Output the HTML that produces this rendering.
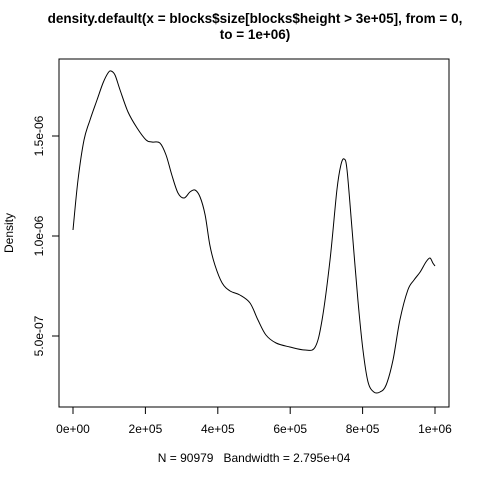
<!DOCTYPE html>
<html><head><meta charset="utf-8"><style>
body{margin:0;background:#fff}
svg text{font-family:"Liberation Sans",Arial,sans-serif;fill:#000}
</style></head><body>
<svg width="480" height="480" viewBox="0 0 480 480">
<text x="255" y="23" font-size="13.5" font-weight="bold" text-anchor="middle">density.default(x = blocks$size[blocks$height &gt; 3e+05], from = 0,</text>
<text x="255" y="39" font-size="13.5" font-weight="bold" text-anchor="middle">to = 1e+06)</text>
<rect x="59" y="59" width="390" height="348" fill="none" stroke="#000" stroke-width="1"/>
<g id="xaxis"></g>
<g id="yaxis"></g>
<path id="curve" fill="none" stroke="#000" stroke-width="1"/>
<text x="254" y="462" font-size="12" text-anchor="middle">N = 90979&#160;&#160;&#160;Bandwidth = 2.795e+04</text>
<text transform="translate(13,233) rotate(-90)" font-size="12" text-anchor="middle">Density</text>
</svg>
<script>
const xTicks=[0,200000,400000,600000,800000,1000000];
const xTickLabels=["0e+00","2e+05","4e+05","6e+05","8e+05","1e+06"];
const yTicks=[5e-7,1e-6,1.5e-6];
const yTickLabels=["5.0e-07","1.0e-06","1.5e-06"];
const xs=[0,13800,30400,47000,66300,82900,96700,105000,116000,130000,152000,177000,202000,218000,240000,257000,273000,290000,307000,323000,337000,351000,365000,378000,392000,412000,434000,461000,489000,511000,533000,561000,599000,641000,669000,688000,710000,729000,740000,749000,757000,771000,787000,801000,815000,831000,848000,865000,884000,903000,925000,942000,959000,975000,986000,994000,1000000];
const ys=[10.3,12.8,14.8,15.8,16.8,17.65,18.15,18.25,18.05,17.3,16.2,15.4,14.8,14.7,14.65,14.05,13.05,12.15,11.9,12.2,12.3,11.95,11.05,9.55,8.55,7.65,7.25,7.05,6.65,5.8,5.05,4.65,4.45,4.3,4.45,5.8,8.8,12.3,13.55,13.85,13.3,10.3,6.8,4.3,2.7,2.2,2.2,2.55,3.8,5.8,7.3,7.8,8.2,8.7,8.9,8.65,8.5].map(v=>v*1e-7);
const X=v=>73+v/1e6*362, Y=v=>436-v/1e-6*200;
const NS="http://www.w3.org/2000/svg";
const xa=document.getElementById('xaxis'), ya=document.getElementById('yaxis');
function mk(t,a,p){const e=document.createElementNS(NS,t);for(const k in a)e.setAttribute(k,a[k]);p.appendChild(e);return e;}
mk('line',{x1:X(xTicks[0]),x2:X(xTicks[xTicks.length-1]),y1:407,y2:407,stroke:'#000'},xa);
xTicks.forEach((t,i)=>{
 const l=mk('line',{x1:X(t),x2:X(t),y1:407,y2:414,stroke:'#000'},xa);
 
 
 const tx=mk('text',{x:X(t),y:433,'font-size':12,'text-anchor':'middle'},xa);tx.textContent=xTickLabels[i];
 
 
});
mk('line',{x1:59,x2:59,y1:Y(yTicks[0]),y2:Y(yTicks[yTicks.length-1]),stroke:'#000'},ya);
yTicks.forEach((t,i)=>{
 const l=mk('line',{x1:52,x2:59,y1:Y(t),y2:Y(t),stroke:'#000'},ya);
 
 
 const tx=mk('text',{transform:`translate(43,${Y(t)}) rotate(-90)`,'font-size':12,'text-anchor':'middle'},ya);tx.textContent=yTickLabels[i];
 
 
});
const P=xs.map((x,i)=>[X(x),Y(ys[i])]);
let d=`M${P[0][0]},${P[0][1]}`;
for(let i=0;i<P.length-1;i++){const p0=P[Math.max(0,i-1)],p1=P[i],p2=P[i+1],p3=P[Math.min(P.length-1,i+2)];
 d+=` C${p1[0]+(p2[0]-p0[0])/6},${p1[1]+(p2[1]-p0[1])/6} ${p2[0]-(p3[0]-p1[0])/6},${p2[1]-(p3[1]-p1[1])/6} ${p2[0]},${p2[1]}`;}
document.getElementById('curve').setAttribute('d',d);
</script>
</body></html>
